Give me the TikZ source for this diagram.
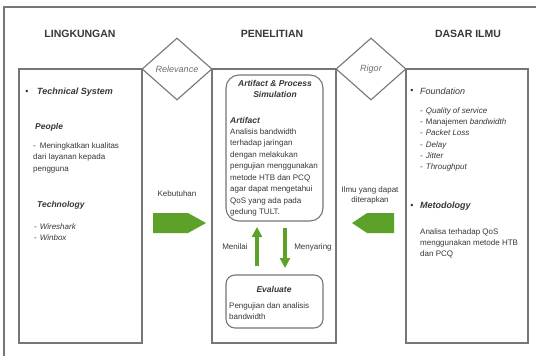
\documentclass[tikz,border=0pt]{standalone}
\usepackage{fontspec}
\setmainfont{Liberation Sans}
\usetikzlibrary{shapes.geometric,arrows.meta}
\definecolor{frame}{RGB}{118,118,118}
\definecolor{txt}{RGB}{55,55,55}
\definecolor{dtxt}{RGB}{110,110,110}
\definecolor{grn}{RGB}{92,162,40}
\tikzset{
  boxline/.style={draw=frame, line width=1.1pt},
  head/.style={font=\fontsize{10.5}{12}\selectfont\bfseries, text=txt, inner sep=0},
  body/.style={font=\fontsize{8}{11.5}\selectfont, text=txt, inner sep=0, align=left, anchor=north west},
  ttl/.style={font=\fontsize{8.5}{11}\selectfont\bfseries\itshape, text=txt, inner sep=0},
  dia/.style={diamond, draw=frame, line width=1.1pt, fill=white, minimum width=70pt, minimum height=62pt, inner sep=0, font=\fontsize{9}{10}\selectfont\itshape, text=dtxt},
  rbox/.style={draw=frame, line width=1.1pt},
  garrow/.style={draw=grn, line width=3.3pt, -{Triangle[width=10pt,length=10pt]}},
  blockarrow/.style={fill=grn, draw=none},
  lbl/.style={font=\fontsize{8}{10}\selectfont, text=txt, inner sep=0, align=center}
}
\begin{document}
\begin{tikzpicture}[x=1pt,y=-1pt]
\useasboundingbox (0,0) rectangle (536,356);
\fill[white] (0,0) rectangle (536,356);
% outer frame (cropped)
\draw[boxline] (4,360) -- (4,7) -- (540,7);
% headings
\node[head] (hL) at (80,34) {LINGKUNGAN};
\node[head] (hP) at (272,34) {PENELITIAN};
\node[head] (hD) at (468,34) {DASAR ILMU};
% boxes
\draw[boxline] (19,69) rectangle (142,343);
\draw[boxline] (212,69) rectangle (336,343);
\draw[boxline] (406,69) rectangle (528,343);
% diamonds
\node[dia] (rel) at (177,69) {Relevance};
\node[dia] (rig) at (371,69) {Rigor};
% left box contents
\node[font=\fontsize{9}{10}\selectfont, text=txt, inner sep=0] (b1) at (27,92) {•};
\node[ttl, font=\fontsize{9}{10}\selectfont\bfseries\itshape, anchor=west] (ts) at (37,92) {Technical System};
\node[ttl, anchor=west] (ppl) at (35,127) {People};
\node[body] (ppltxt) at (33,142.5) {-\hspace{4pt}Meningkatkan kualitas\\dari layanan kepada\\pengguna};
\node[ttl, anchor=west] (tech) at (37,205) {Technology};
\node[body, font=\fontsize{8}{11}\selectfont] (techtxt) at (34,223.5) {-\hspace{3pt}\textit{Wireshark}\\-\hspace{3pt}\textit{Winbox}};
% right box contents
\node[font=\fontsize{9}{10}\selectfont, text=txt, inner sep=0] (b2) at (412,91) {•};
\node[font=\fontsize{9}{10}\selectfont\itshape, text=txt, inner sep=0, anchor=west] (fnd) at (420,91) {Foundation};
\node[body, font=\fontsize{8}{11.2}\selectfont] (fndtxt) at (420,107.5) {-\hspace{3pt}\textit{Quality of service}\\-\hspace{3pt}Manajemen \textit{bandwidth}\\-\hspace{3pt}\textit{Packet Loss}\\-\hspace{3pt}\textit{Delay}\\-\hspace{3pt}\textit{Jitter}\\-\hspace{3pt}\textit{Throughput}};
\node[font=\fontsize{9}{10}\selectfont, text=txt, inner sep=0] (b3) at (412,206) {•};
\node[ttl, font=\fontsize{9}{10}\selectfont\bfseries\itshape, anchor=west] (met) at (420,206) {Metodology};
\node[body, font=\fontsize{8}{11}\selectfont] (mettxt) at (420,228.5) {Analisa terhadap QoS\\menggunakan metode HTB\\dan PCQ};
% middle contents
\draw[rbox, rounded corners=13pt] (226,75) rectangle (323,221);
\coordinate (artS) at (274.5,221);
\draw[rbox, rounded corners=9pt] (226,275) rectangle (323,328);
\coordinate (evN) at (274.5,275);
\node[ttl, align=center, anchor=north] (apt) at (275,80.5) {Artifact \& Process\\Simulation};
\node[ttl, anchor=west] (art) at (230,120) {Artifact};
\node[body] (arttxt) at (230,128.5) {Analisis bandwidth\\terhadap jaringan\\dengan melakukan\\pengujian menggunakan\\metode HTB dan PCQ\\agar dapat mengetahui\\QoS yang ada pada\\gedung TULT.};
\node[ttl] (ev) at (274,289) {Evaluate};
\node[body, font=\fontsize{8}{11}\selectfont] (evtxt) at (229,302.5) {Pengujian dan analisis\\bandwidth};
% vertical arrows
\coordinate (ux) at (257,0);
\coordinate (dx) at (285,0);
\draw[garrow, shorten <=9pt, shorten >=6pt] (evN -| ux) -- (artS -| ux);
\draw[garrow, shorten <=7pt, shorten >=7pt] (artS -| dx) -- (evN -| dx);
\node[lbl] (menilai) at (235,247) {Menilai};
\node[lbl] (menyaring) at (313,247) {Menyaring};
% block arrows
\fill[blockarrow] (153,213) -- (188,213) -- (206,223) -- (188,233) -- (153,233) -- cycle;
\fill[blockarrow] (394,213) -- (367,213) -- (352,223) -- (367,233) -- (394,233) -- cycle;
\node[lbl] (keb) at (177,194) {Kebutuhan};
\node[lbl, anchor=north] (ilmu) at (370,187) {Ilmu yang dapat\\diterapkan};
\end{tikzpicture}
\end{document}
